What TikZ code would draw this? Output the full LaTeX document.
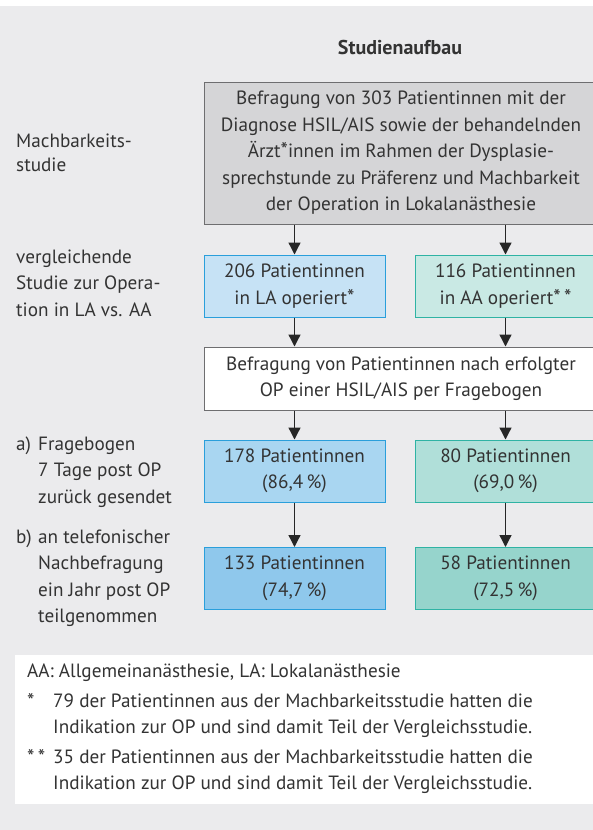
\documentclass[tikz,border=0pt]{standalone}
\usepackage{fontspec}
\setmainfont{PT Sans}
\usetikzlibrary{arrows.meta}
\definecolor{bgc}{HTML}{EBEBED}
\definecolor{txt}{HTML}{333333}
\definecolor{topfill}{HTML}{D5D5D7}
\definecolor{boxdraw}{HTML}{6E6E70}
\definecolor{bluedraw}{HTML}{2A9FDB}
\definecolor{tealdraw}{HTML}{2FB3A4}
\definecolor{blueA}{HTML}{C6E2F5}
\definecolor{blueB}{HTML}{A9D6F1}
\definecolor{blueC}{HTML}{8FC8EC}
\definecolor{tealA}{HTML}{C9E9E4}
\definecolor{tealB}{HTML}{B0DFD9}
\definecolor{tealC}{HTML}{96D4CC}
\newcommand{\fnast}{{\fontsize{21}{21}\selectfont *}}
\tikzset{
  every node/.style={text=txt, font=\fontsize{19.2}{26.5}\selectfont, inner sep=0pt},
  fbox/.style={draw=#1, line width=1pt, align=center, minimum width=181pt, minimum height=62pt},
  arr/.style={draw=black!85, line width=1.3pt, -{Triangle[length=12pt,width=12pt]}},
  lbl/.style={anchor=base west, align=left},
}
\begin{document}
\begin{tikzpicture}[x=1pt,y=-1pt]
\useasboundingbox (0,0) rectangle (593,830);
\clip (0,0) rectangle (593,830);
\fill[white] (0,0) rectangle (593,830);
\fill[bgc] (0,6) rectangle (593,830);

\node[font=\fontsize{20}{26.5}\selectfont\bfseries] (title) at (400,47) {Studienaufbau};

\node[fbox=boxdraw, fill=topfill, minimum width=394pt, minimum height=142pt] (top) at (401,153)
 {Befragung von 303 Patientinnen mit der\\Diagnose HSIL/AIS sowie der behandelnden\\Ärzt\fnast innen im Rahmen der Dysplasie-\\sprechstunde zu Präferenz und Machbarkeit\\der Operation in Lokalanästhesie};

\node[fbox=bluedraw, fill=blueA] (la1) at (294.5,286) {206 Patientinnen\\in LA operiert\fnast};
\node[fbox=tealdraw, fill=tealA] (aa1) at (505.5,286) {116 Patientinnen\\in AA operiert\fnast\,\fnast};

\node[fbox=boxdraw, fill=white, minimum width=394pt, minimum height=63pt] (mid) at (401,378.5)
 {Befragung von Patientinnen nach erfolgter\\OP einer HSIL/AIS per Fragebogen};

\node[fbox=bluedraw, fill=blueB] (la2) at (294.5,471) {178 Patientinnen\\(86,4\,\%)};
\node[fbox=tealdraw, fill=tealB] (aa2) at (505.5,471) {80 Patientinnen\\(69,0\,\%)};
\node[fbox=bluedraw, fill=blueC] (la3) at (294.5,578.5) {133 Patientinnen\\(74,7\,\%)};
\node[fbox=tealdraw, fill=tealC] (aa3) at (505.5,578.5) {58 Patientinnen\\(72,5\,\%)};

\draw[arr] (top.south -| la1.north) -- (la1.north);
\draw[arr] (top.south -| aa1.north) -- (aa1.north);
\draw[arr] (la1) -- (mid.north -| la1.south);
\draw[arr] (aa1) -- (mid.north -| aa1.south);
\draw[arr] (mid.south -| la2.north) -- (la2.north);
\draw[arr] (mid.south -| aa2.north) -- (aa2.north);
\draw[arr] (la2) -- (la3);
\draw[arr] (aa2) -- (aa3);

\node[lbl, font=\fontsize{19.2}{24.5}\selectfont] (l1) at (16,171.5) {Machbarkeits-\\studie};
\node[lbl] (l2) at (16,316) {vergleichende\\Studie zur Opera-\\tion in LA vs. AA};
\node[lbl] (l3a) at (16,450) {a)};
\node[lbl] (l3) at (38,503) {Fragebogen\\7 Tage post OP\\zurück gesendet};
\node[lbl] (l4a) at (16,543) {b)};
\node[lbl] (l4) at (38,622.5) {an telefonischer\\Nachbefragung\\ein Jahr post OP\\teilgenommen};

\fill[white] (15,655) rectangle (600,804);
\node[lbl] (f0) at (27,677) {AA: Allgemeinanästhesie, LA: Lokalanästhesie};
\node[lbl] (f1s) at (27,708) {\fnast};
\node[lbl] (f1) at (53,733.5) {79 der Patientinnen aus der Machbarkeitsstudie hatten die\\Indikation zur OP und sind damit Teil der Vergleichsstudie.};
\node[lbl] (f2s) at (27,764) {\fnast\,\fnast};
\node[lbl] (f2) at (53,789.5) {35 der Patientinnen aus der Machbarkeitsstudie hatten die\\Indikation zur OP und sind damit Teil der Vergleichsstudie.};
\end{tikzpicture}
\end{document}
